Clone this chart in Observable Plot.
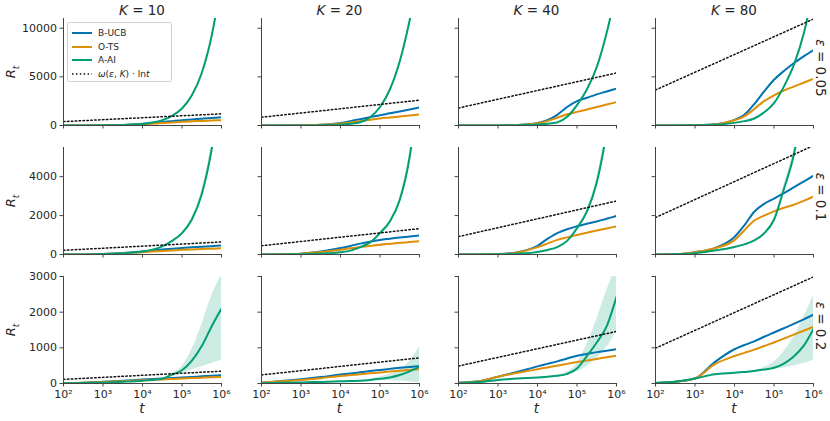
<!DOCTYPE html>
<html>
<head>
<meta charset="utf-8">
<script src="https://cdn.jsdelivr.net/npm/d3@7"></script>
<script src="https://cdn.jsdelivr.net/npm/@observablehq/plot@0.6"></script>
<style>
  html, body { margin: 0; padding: 0; background: white; }
  #wrap { position: relative; width: 830px; height: 421px; font-family: "DejaVu Sans", sans-serif; color: #262626; overflow: hidden; }
  .abs { position: absolute; white-space: nowrap; }
  .panel { position: absolute; }
  .title { font-size: 13.5px; transform: translate(-50%, -50%); }
  .ylab { font-size: 13px; transform: translate(-50%, -50%) rotate(-90deg); }
  .xlab { font-size: 13.5px; transform: translate(-50%, -50%); font-style: italic; }
  .elab { font-size: 13.5px; transform: translate(-50%, -50%) rotate(90deg); }
  .legend { position: absolute; border: 1px solid #d0d0d0; border-radius: 3px; background: rgba(255,255,255,0.85); font-size: 9px; box-sizing: border-box; padding: 3px 4px; }
  .legend .row { display: flex; align-items: center; height: 13.7px; }
  .legend svg { margin-right: 6px; }
</style>
</head>
<body>
<div id="wrap"></div>
<script>
// ---- data ----
const logT = [2, 2.5, 3, 3.5, 4, 4.25, 4.5, 4.75, 5, 5.25, 5.5, 5.75, 6];
const kValues = [10, 20, 40, 80];
const epsValues = ["0.05", "0.1", "0.2"];
const yMax = [11000, 5500, 3000];
const yTicks = [[0, 5000, 10000], [0, 2000, 4000], [0, 1000, 2000, 3000]];
const xTicks = [1e2, 1e3, 1e4, 1e5, 1e6];
const seriesNames = ["B-UCB", "O-TS", "A-AI"];
const seriesColors = ["#0173B2", "#DE8F05", "#029E73"];

// panels in row-major order: eps 0.05 (K=10,20,40,80), eps 0.1 (...), eps 0.2 (...)
const bucb = [
  [0, 5, 20, 60, 180, 260, 350, 450, 550, 620, 700, 780, 850],
  [0, 5, 20, 80, 270, 450, 650, 850, 1060, 1250, 1450, 1650, 1850],
  [0, 3, 10, 50, 250, 550, 1100, 1900, 2500, 2850, 3200, 3500, 3800],
  [0, 5, 30, 120, 580, 1100, 2200, 3500, 4700, 5600, 6400, 7100, 7750],
  [0, 5, 30, 80, 160, 210, 260, 300, 340, 370, 400, 430, 460],
  [0, 10, 40, 150, 330, 440, 560, 660, 750, 810, 870, 920, 975],
  [0, 5, 20, 120, 450, 800, 1100, 1300, 1450, 1580, 1700, 1840, 1980],
  [0, 10, 120, 330, 900, 1500, 2200, 2600, 2870, 3150, 3450, 3750, 4050],
  [5, 20, 50, 80, 110, 125, 140, 155, 170, 185, 200, 215, 230],
  [20, 70, 120, 180, 250, 280, 315, 350, 380, 410, 440, 465, 485],
  [20, 60, 190, 330, 480, 550, 620, 700, 780, 830, 880, 920, 960],
  [10, 50, 140, 600, 960, 1080, 1180, 1310, 1430, 1550, 1670, 1800, 1930]
];
const ots = [
  [0, 5, 15, 45, 130, 190, 250, 320, 380, 430, 470, 510, 550],
  [0, 5, 20, 70, 200, 320, 450, 580, 720, 820, 920, 1030, 1130],
  [0, 3, 10, 45, 230, 450, 800, 1150, 1400, 1650, 1900, 2150, 2400],
  [0, 5, 30, 115, 540, 950, 1700, 2500, 3100, 3600, 4000, 4400, 4800],
  [0, 5, 25, 65, 120, 150, 180, 210, 240, 260, 280, 300, 320],
  [0, 10, 40, 130, 250, 320, 380, 440, 500, 550, 600, 640, 685],
  [0, 5, 20, 110, 380, 560, 750, 880, 1000, 1120, 1230, 1340, 1450],
  [0, 10, 110, 320, 740, 1250, 1750, 2000, 2220, 2400, 2560, 2760, 2975],
  [5, 20, 40, 65, 90, 102, 115, 128, 140, 152, 163, 175, 185],
  [20, 60, 100, 150, 210, 235, 260, 285, 310, 335, 360, 380, 400],
  [20, 60, 190, 300, 400, 450, 500, 550, 600, 645, 690, 735, 780],
  [10, 50, 140, 540, 770, 860, 950, 1050, 1150, 1260, 1370, 1480, 1590]
];
const aai = [
  [0, 5, 15, 45, 150, 300, 550, 1000, 1750, 3100, 5400, 9200, 15000],
  [0, 3, 10, 30, 100, 180, 330, 850, 1900, 3700, 6600, 10800, 16000],
  [0, 2, 8, 30, 100, 180, 320, 900, 2100, 3700, 6000, 9500, 14000],
  [0, 5, 20, 80, 270, 450, 720, 1350, 2300, 4000, 6200, 9400, 14000],
  [0, 5, 20, 60, 150, 250, 420, 700, 1100, 1800, 3100, 5400, 9000],
  [0, 5, 15, 50, 120, 200, 380, 620, 1100, 1700, 2800, 5000, 9000],
  [0, 3, 10, 40, 130, 230, 380, 700, 1350, 2200, 3700, 6300, 10000],
  [0, 10, 70, 200, 385, 520, 720, 1085, 1785, 3360, 5110, 8000, 12000],
  [5, 15, 25, 50, 80, 100, 130, 250, 370, 640, 1050, 1600, 2100],
  [10, 20, 30, 45, 60, 70, 80, 100, 130, 170, 240, 340, 470],
  [10, 40, 100, 140, 170, 190, 215, 270, 420, 770, 1150, 1600, 2430],
  [20, 50, 140, 260, 300, 325, 350, 390, 440, 560, 760, 1055, 1530]
];
const aaiLo = [
  null, null, null, null,
  [0, 5, 20, 60, 150, 250, 410, 680, 1050, 1700, 2900, 5000, 8200],
  [0, 5, 15, 50, 120, 195, 370, 600, 1050, 1620, 2650, 4700, 8400],
  [0, 3, 10, 40, 130, 225, 370, 680, 1280, 2080, 3450, 5900, 9200],
  [0, 10, 70, 200, 385, 515, 705, 1050, 1700, 3150, 4800, 7500, 11000],
  [5, 15, 25, 50, 80, 95, 120, 210, 280, 380, 470, 560, 650],
  [10, 20, 30, 45, 60, 65, 70, 75, 80, 80, 70, 50, 20],
  [10, 40, 100, 140, 170, 185, 205, 230, 330, 480, 700, 1000, 1450],
  [20, 50, 140, 260, 300, 322, 345, 370, 390, 440, 490, 560, 650]
];
const aaiHi = [
  null, null, null, null,
  [0, 5, 20, 60, 150, 250, 430, 720, 1150, 1900, 3300, 5800, 9800],
  [0, 5, 15, 50, 120, 205, 390, 640, 1150, 1780, 2950, 5300, 9600],
  [0, 3, 10, 40, 130, 235, 390, 720, 1420, 2320, 3950, 6700, 10800],
  [0, 10, 70, 200, 385, 525, 735, 1120, 1870, 3570, 5420, 8500, 13000],
  [5, 15, 25, 50, 80, 105, 145, 290, 480, 950, 1650, 2450, 3050],
  [10, 20, 30, 45, 60, 75, 90, 125, 180, 260, 400, 620, 1030],
  [10, 40, 100, 140, 170, 195, 225, 320, 550, 1100, 1800, 2600, 3300],
  [20, 50, 140, 260, 300, 328, 360, 450, 600, 900, 1300, 1850, 2470]
];
// ω(ε,K)·ln t reference line: value at t=1e2 and at t=1e6
const omegaStart = [400, 850, 1800, 3650, 215, 450, 920, 1900, 115, 240, 490, 990];
const omegaEnd = [1200, 2600, 5400, 10950, 645, 1330, 2750, 5600, 345, 720, 1460, 2990];

// ---- layout ----
const colL = [63, 260.5, 457.5, 655];
const rowT = [18, 147, 276];
const PW = 158, PH = 107;
const mL = 40, mR = 6, mT = 4, mB = 26;

const wrap = document.getElementById("wrap");
const sup = {"2": "²", "3": "³", "4": "⁴", "5": "⁵", "6": "⁶"};
const fmtPow = d => "10" + sup[String(Math.round(Math.log10(d)))];

function add(html, cls, x, y) {
  const d = document.createElement("div");
  d.className = "abs " + cls;
  d.style.left = x + "px";
  d.style.top = y + "px";
  d.innerHTML = html;
  wrap.appendChild(d);
}

for (let r = 0; r < 3; r++) {
  for (let c = 0; c < 4; c++) {
    const p = r * 4 + c;
    const mk = arr => logT.map((lt, i) => ({t: Math.pow(10, lt), v: arr[i]}));
    const marks = [];
    if (aaiLo[p]) {
      const band = logT.map((lt, i) => ({t: Math.pow(10, lt), lo: aaiLo[p][i], hi: aaiHi[p][i]}));
      marks.push(Plot.areaY(band, {x: "t", y1: "lo", y2: "hi", fill: seriesColors[2], fillOpacity: 0.2, curve: "monotone-x", clip: true}));
    }
    [bucb, ots, aai].forEach((s, k) => {
      marks.push(Plot.line(mk(s[p]), {x: "t", y: "v", stroke: seriesColors[k], strokeWidth: 2, curve: "monotone-x", clip: true}));
    });
    marks.push(Plot.line([{t: 1e2, v: omegaStart[p]}, {t: 1e6, v: omegaEnd[p]}], {x: "t", y: "v", stroke: "#111", strokeWidth: 1.5, strokeDasharray: "1.5,2.4", clip: true}));
    marks.push(Plot.axisX({ticks: xTicks, tickSize: 3.5, tickPadding: 3, stroke: "#444", fill: "#262626", label: null, tickFormat: r === 2 ? fmtPow : () => ""}));
    marks.push(Plot.axisY({ticks: yTicks[r], tickSize: 3.5, tickPadding: 3, stroke: "#444", fill: "#262626", label: null, tickFormat: c === 0 ? (d => String(d)) : () => ""}));
    marks.push(Plot.ruleX([1e2], {stroke: "#444", strokeWidth: 1}));
    marks.push(Plot.ruleY([0], {stroke: "#444", strokeWidth: 1}));

    const svg = Plot.plot({
      width: PW + mL + mR,
      height: PH + mT + mB,
      marginLeft: mL, marginRight: mR, marginTop: mT, marginBottom: mB,
      x: {type: "log", domain: [1e2, 1e6], label: null},
      y: {domain: [0, yMax[r]], label: null},
      style: {background: "none", overflow: "visible", fontSize: "11px", fontFamily: "DejaVu Sans", color: "#262626"},
      marks
    });
    svg.classList.add("panel");
    svg.style.position = "absolute";
    svg.style.left = (colL[c] - mL) + "px";
    svg.style.top = (rowT[r] - mT) + "px";
    svg.style.maxWidth = "none";
    wrap.appendChild(svg);
  }
}

// titles
kValues.forEach((k, c) => add(`<i>K</i> = ${k}`, "title", colL[c] + PW / 2, 10));
// y labels
rowT.forEach(t => add(`<i>R</i><sub style="font-size:70%"><i>t</i></sub>`, "ylab", 12, t + PH / 2));
// x labels
colL.forEach(l => add("t", "xlab", l + PW / 2, 408));
// eps labels
epsValues.forEach((e, r) => add(`<i>ε</i> = ${e}`, "elab", 821, rowT[r] + PH / 2 - 4));

// legend
const lg = document.createElement("div");
lg.className = "legend";
lg.style.left = "67px"; lg.style.top = "22px"; lg.style.width = "105px"; lg.style.height = "60px";
const items = seriesNames.map((n, k) => ({label: n, color: seriesColors[k], dash: null}));
items.push({label: "<i>ω</i>(<i>ε</i>, <i>K</i>) · ln<i>t</i>", color: "#111", dash: "1.5,2.4"});
items.forEach(it => {
  const row = document.createElement("div");
  row.className = "row";
  row.innerHTML = `<svg width="20" height="4"><line x1="0" y1="2" x2="20" y2="2" stroke="${it.color}" stroke-width="${it.dash ? 1.5 : 2}" ${it.dash ? `stroke-dasharray="${it.dash}"` : ""}/></svg><span>${it.label}</span>`;
  lg.appendChild(row);
});
wrap.appendChild(lg);
</script>
</body>
</html>
